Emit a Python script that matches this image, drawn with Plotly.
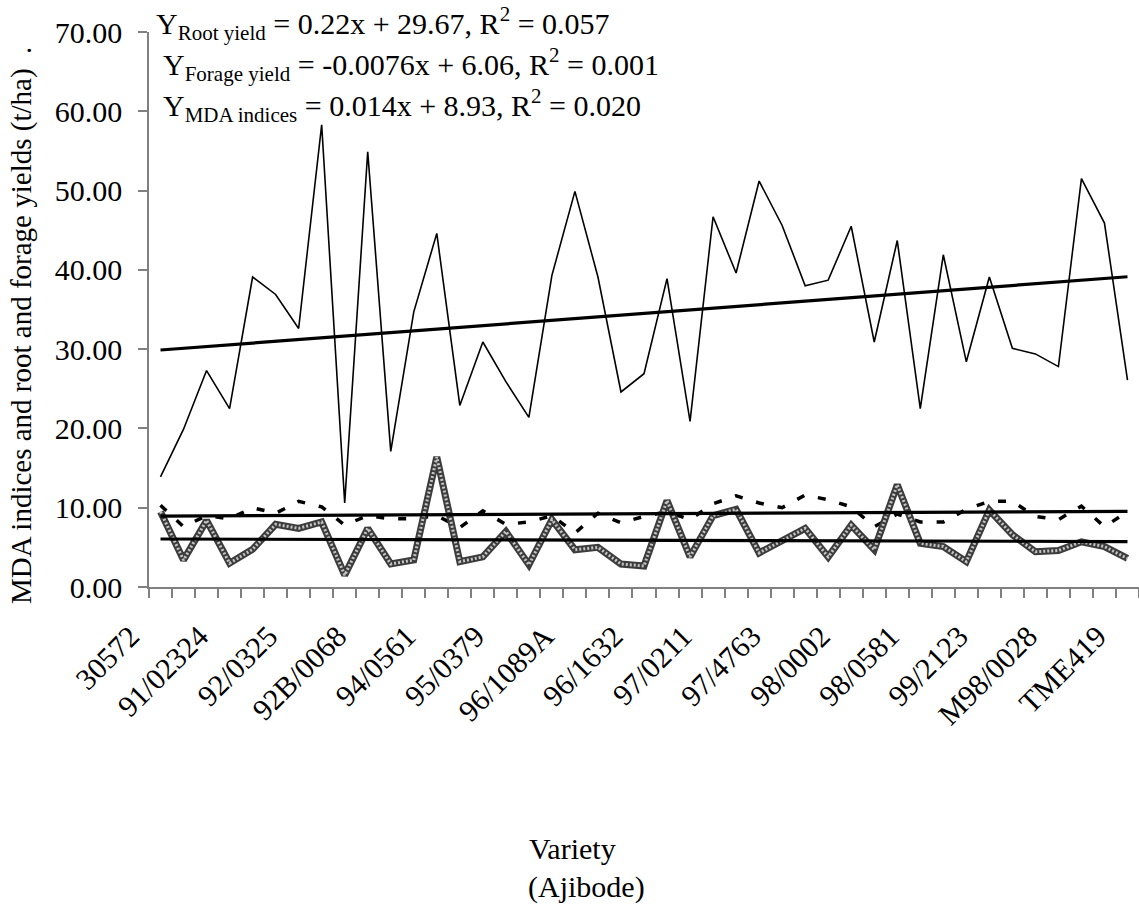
import plotly.graph_objects as go

# ---------------- data ----------------
x_index = list(range(1, 44))
tick_positions = [1, 4, 7, 10, 13, 16, 19, 22, 25, 28, 31, 34, 37, 40, 43]
tick_labels = ["30572", "91/02324", "92/0325", "92B/0068", "94/0561", "95/0379",
               "96/1089A", "96/1632", "97/0211", "97/4763", "98/0002", "98/0581",
               "99/2123", "M98/0028", "TME419"]

root_yield = [13.9, 19.9, 27.3, 22.5, 39.1, 36.9, 32.6, 58.3, 10.6, 54.9,
              17.1, 34.7, 44.6, 22.9, 30.9, 25.9, 21.4, 39.3, 49.9, 39.1,
              24.6, 26.9, 38.9, 20.9, 46.7, 39.6, 51.2, 45.6, 38.0, 38.7,
              45.5, 30.9, 43.7, 22.5, 41.9, 28.4, 39.1, 30.1, 29.4, 27.8,
              51.5, 45.9, 26.1]
forage_yield = [9.5, 3.4, 8.4, 3.0, 4.75, 7.9, 7.4, 8.2, 1.5, 7.4,
                2.9, 3.4, 16.4, 3.2, 3.8, 7.0, 2.8, 8.5, 4.7, 5.0,
                2.9, 2.65, 10.9, 3.8, 9.0, 9.8, 4.3, 5.9, 7.4, 3.8,
                7.8, 4.7, 12.9, 5.5, 5.1, 3.2, 9.7, 6.6, 4.45, 4.6,
                5.7, 5.1, 3.6]
mda_indices = [10.3, 7.6, 9.0, 8.6, 10.0, 9.3, 10.8, 10.1, 7.8, 9.0,
               8.6, 8.6, 9.0, 7.5, 9.6, 7.9, 8.2, 9.0, 6.8, 9.3,
               8.1, 8.9, 9.5, 8.5, 10.5, 11.5, 10.6, 10.0, 11.6, 11.0,
               10.1, 7.6, 9.2, 8.2, 8.2, 9.8, 10.8, 10.8, 8.9, 8.5,
               10.2, 7.6, 9.5]

# trend-line coefficients (as printed on the chart)
trend_names = ["Root yield", "Forage yield", "MDA indices"]
trend_slopes = [0.22, -0.0076, 0.014]
trend_intercepts = [29.67, 6.06, 8.93]
trend_r2 = ["0.057", "0.001", "0.020"]
eq_slope_text = ["0.22", "-0.0076", "0.014"]
eq_intercept_text = ["29.67", "6.06", "8.93"]

FONT = "Liberation Serif"
FS = 30

fig = go.Figure()

fig.add_trace(go.Scatter(x=x_index, y=root_yield, mode="lines",
                         line=dict(color="black", width=1.6), name="Root yield"))
fig.add_trace(go.Scatter(x=x_index, y=mda_indices, mode="lines",
                         line=dict(color="black", width=3.5, dash="8px,14px"),
                         name="MDA indices"))
fig.add_trace(go.Scatter(x=x_index, y=forage_yield, mode="lines",
                         line=dict(color="#3c3c3c", width=7), name="Forage yield"))
fig.add_trace(go.Scatter(x=x_index, y=forage_yield, mode="lines",
                         line=dict(color="#c4c4c4", width=3, dash="2px,2px"),
                         showlegend=False, hoverinfo="skip"))

for name, m, b in zip(trend_names, trend_slopes, trend_intercepts):
    ty = [m * xi + b for xi in x_index]
    fig.add_trace(go.Scatter(x=x_index, y=ty, mode="lines",
                             line=dict(color="black", width=3.2),
                             name=name + " trend"))

annotations = []
eq_y = [23, 64, 105]
eq_x = [154, 161, 161]
for name, s, c, r2, yy, xx in zip(trend_names, eq_slope_text, eq_intercept_text,
                                   trend_r2, eq_y, eq_x):
    txt = f"Y<sub>{name}</sub> = {s}x + {c}, R<sup>2</sup> = {r2}"
    annotations.append(dict(text=txt, xref="paper", yref="paper", x=0, y=1,
                            xanchor="left", yanchor="middle",
                            xshift=xx - 149, yshift=32 - yy, showarrow=False,
                            font=dict(family=FONT, size=FS, color="black")))

annotations.append(dict(text="MDA indices and root and forage yields (t/ha)  .",
                        textangle=-90, xref="paper", yref="paper", x=0, y=0.5,
                        xanchor="center", yanchor="middle", xshift=21 - 149,
                        yshift=(32 + 555 / 2) - 326, showarrow=False,
                        font=dict(family=FONT, size=29, color="black")))
annotations.append(dict(text="Variety", xref="paper", yref="paper", x=0, y=0,
                        xanchor="left", yanchor="middle", xshift=527 - 149,
                        yshift=587 - 848, showarrow=False,
                        font=dict(family=FONT, size=FS, color="black")))
annotations.append(dict(text="(Ajibode)", xref="paper", yref="paper", x=0, y=0,
                        xanchor="left", yanchor="middle", xshift=526 - 149,
                        yshift=587 - 887, showarrow=False,
                        font=dict(family=FONT, size=FS, color="black")))

fig.update_layout(
    width=1139, height=906,
    margin=dict(l=149, r=0, t=32, b=319, autoexpand=False),
    paper_bgcolor="white", plot_bgcolor="white",
    showlegend=False,
    annotations=annotations,
    xaxis=dict(range=[0.5, 43.5], showline=True, linecolor="#808080", linewidth=1.5,
               tickmode="array", tickvals=tick_positions, ticktext=tick_labels,
               tickangle=-45, ticks="", showgrid=False, zeroline=False,
               ticklabeloverflow="allow", ticklabelstandoff=18, ticklabelshift=-30,
               tickfont=dict(family=FONT, size=FS, color="black"),
               minor=dict(tickmode="array",
                          tickvals=[v + 0.5 for v in range(0, 44)],
                          ticks="outside", ticklen=9, tickcolor="#808080",
                          tickwidth=1.5, showgrid=False)),
    yaxis=dict(range=[0, 70], showline=True, linecolor="#808080", linewidth=1.5,
               tickmode="array", tickvals=[0, 10, 20, 30, 40, 50, 60, 70],
               tickformat=".2f", ticks="outside", ticklen=9, tickcolor="#808080",
               tickwidth=1.5, showgrid=False, zeroline=False, ticklabelstandoff=10,
               tickfont=dict(family=FONT, size=FS, color="black")),
)

fig.write_html("out.html")
